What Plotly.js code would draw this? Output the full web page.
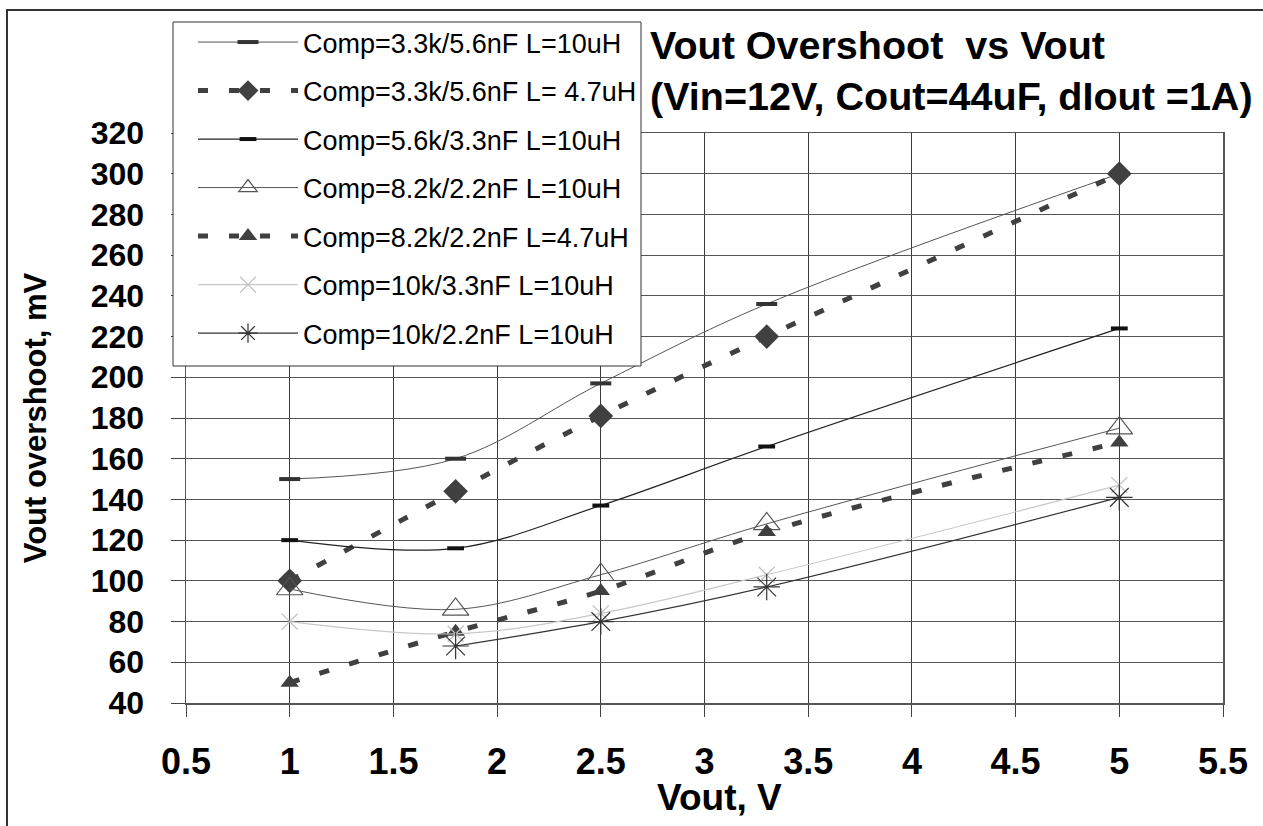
<!DOCTYPE html>
<html>
<head>
<meta charset="utf-8">
<script src="https://cdn.plot.ly/plotly-3.0.1.min.js"></script>
<style>html,body{margin:0;padding:0;background:#fff;}#chart{width:1263px;height:826px;}</style>
</head>
<body>
<div id="chart"></div>
<script>
// ---- data ----
const vout = [1, 1.8, 2.5, 3.3, 5];
const names = [
  'Comp=3.3k/5.6nF L=10uH',
  'Comp=3.3k/5.6nF L= 4.7uH',
  'Comp=5.6k/3.3nF L=10uH',
  'Comp=8.2k/2.2nF L=10uH',
  'Comp=8.2k/2.2nF L=4.7uH',
  'Comp=10k/3.3nF L=10uH',
  'Comp=10k/2.2nF L=10uH'
];
const s1 = [150, 160, 197, 236, 300];
const s2 = [100, 144, 181, 220, 300];
const s3 = [120, 116, 137, 166, 224];
const s4 = [96, 86, 103, 128, 175];
const s5 = [50, 75, 95, 124, 168];
const s6 = [80, 74, 84, 103, 147];
const s7 = [null, 68, 80, 97, 141];
const xTicks = [0.5, 1, 1.5, 2, 2.5, 3, 3.5, 4, 4.5, 5, 5.5];
const yTicks = [40, 60, 80, 100, 120, 140, 160, 180, 200, 220, 240, 260, 280, 300, 320];

const FONT = 'Liberation Sans, Arial, sans-serif';
const DASH = '10px,21px';

const styles = [
  {line:{color:'#555', width:1, shape:'spline'}, marker:{symbol:'line-ew-open', size:15, color:'#333', line:{width:4, color:'#333'}}},
  {line:{color:'#404040', width:5, dash:DASH, shape:'spline'}, marker:{symbol:'diamond', size:19, color:'#404040'}},
  {line:{color:'#222', width:1.2, shape:'spline'}, marker:{symbol:'line-ew-open', size:12, color:'#111', line:{width:4, color:'#111'}}},
  {line:{color:'#555', width:1, shape:'spline'}, marker:{symbol:'triangle-up-open', size:23, color:'#555', line:{width:1.2, color:'#555'}}},
  {line:{color:'#404040', width:5, dash:DASH, shape:'spline'}, marker:{symbol:'triangle-up', size:16, color:'#404040'}},
  {line:{color:'#c8c8c8', width:1.2, shape:'spline'}, marker:{symbol:'x-thin-open', size:16, color:'#bdbdbd', line:{width:1.2, color:'#bdbdbd'}}},
  {line:{color:'#333', width:1.2, shape:'spline'}, marker:{symbol:'asterisk-open', size:22, color:'#333', line:{width:1.2, color:'#333'}}}
];
const series = [s1, s2, s3, s4, s5, s6, s7];

const traces = series.map((ys, i) => Object.assign({
  type:'scatter', mode:'lines+markers', x: vout, y: ys, name: names[i],
  legendgroup: 'g' + i, connectgaps:false
}, styles[i]));

// plot area in px: left 186, right 1223, top 133, bottom 703
const L = 186, R = 1263 - 1223, T = 133, B = 826 - 703;
const PW = 1263 - L - R, PH = 826 - T - B;
const px2x = p => (p - L) / PW;
const py2y = p => (826 - B - p) / PH;

const layout = {
  width:1263, height:826,
  margin:{l:L, r:R, t:T, b:B, pad:0},
  paper_bgcolor:'#fff', plot_bgcolor:'#fff',
  font:{family:FONT, color:'#000'},
  showlegend:true,
  title:{
    text:'Vout Overshoot\u00a0 vs Vout<br>(Vin=12V, Cout=44uF, dIout =1A)',
    font:{family:FONT, size:39.5, weight:'bold', color:'#000'},
    xref:'container', yref:'container', x:650/1263, xanchor:'left', y:1 - 59/826, yanchor:'top'
  },
  xaxis:{
    range:[0.5, 5.5], tickmode:'array', tickvals:xTicks, ticktext:xTicks.map(String),
    showgrid:true, gridcolor:'#3a3a3a', gridwidth:1,
    showline:true, linecolor:'#555', linewidth:1.5, mirror:true,
    ticks:'outside', ticklen:12, tickcolor:'#444', tickwidth:1,
    tickfont:{family:FONT, size:36, weight:'bold', color:'#000'},
    ticklabelstandoff:14, zeroline:false
  },
  yaxis:{
    range:[40, 320], tickmode:'array', tickvals:yTicks, ticktext:yTicks.map(String),
    showgrid:true, gridcolor:'#555', gridwidth:1,
    showline:true, linecolor:'#555', linewidth:1.5, mirror:true,
    ticks:'outside', ticklen:14, tickcolor:'#444', tickwidth:1,
    tickfont:{family:FONT, size:32, weight:'bold', color:'#000'},
    ticklabelstandoff:20, zeroline:false,
    title:{text:'Vout overshoot, mV', font:{family:FONT, size:31, weight:'bold', color:'#000'}, standoff:35}
  },
  legend:{
    x: px2x(193), y: py2y(18), xanchor:'left', yanchor:'top',
    bgcolor:'rgba(0,0,0,0)', borderwidth:0,
    font:{family:FONT, size:27, color:'#000'},
    traceorder:'grouped', tracegroupgap:10.4, itemwidth:100
  },
  annotations:[{
    text:'Vout, V', xref:'paper', yref:'paper', x: px2x(719), y: py2y(797),
    xanchor:'center', yanchor:'middle', showarrow:false,
    font:{family:FONT, size:37, weight:'bold', color:'#000'}
  }],
  shapes:[
    {type:'rect', xref:'paper', yref:'paper', x0: px2x(7), x1: px2x(1300), y0: py2y(900), y1: py2y(10),
     line:{color:'#333', width:2}, fillcolor:'rgba(0,0,0,0)', layer:'below'},
    // legend box (white panel with thin border), drawn above the plot, under the legend entries
    {type:'rect', xref:'paper', yref:'paper', x0: px2x(173), x1: px2x(641), y0: py2y(366), y1: py2y(22),
     line:{color:'#333', width:1}, fillcolor:'#fff', layer:'above'}
  ]
};

Plotly.newPlot('chart', traces, layout, {displayModeBar:false, staticPlot:true});
</script>
</body>
</html>
